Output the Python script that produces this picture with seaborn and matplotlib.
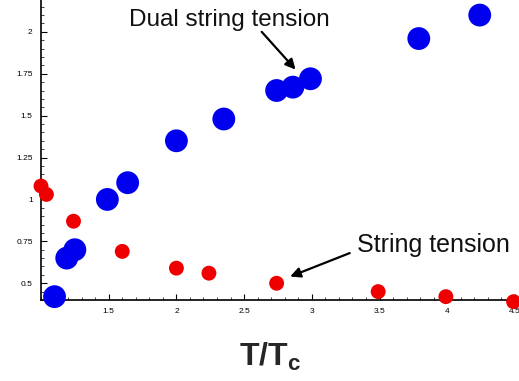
import matplotlib
matplotlib.use("Agg")
import matplotlib.pyplot as plt
import seaborn as sns
import pandas as pd
from matplotlib.ticker import MultipleLocator

dual_T = [1.10, 1.19, 1.25, 1.49, 1.64, 2.00, 2.35, 2.74, 2.86, 2.99, 3.79, 4.24]
dual_val = [0.42, 0.65, 0.70, 1.00, 1.10, 1.35, 1.48, 1.65, 1.67, 1.72, 1.96, 2.10]
str_T = [1.00, 1.04, 1.24, 1.60, 2.00, 2.24, 2.74, 3.49, 3.99, 4.49]
str_val = [1.08, 1.03, 0.87, 0.69, 0.59, 0.56, 0.50, 0.45, 0.42, 0.39]
xticks = [1.5, 2, 2.5, 3, 3.5, 4, 4.5]
yticks = [0.5, 0.75, 1, 1.25, 1.5, 1.75, 2]

sns.set_style("white")
plt.rcParams["font.family"] = ["Liberation Sans", "DejaVu Sans"]
plt.rcParams["mathtext.fontset"] = "custom"
plt.rcParams["mathtext.rm"] = "Liberation Sans"
plt.rcParams["mathtext.bf"] = "Liberation Sans:bold"
plt.rcParams["mathtext.it"] = "Liberation Sans:italic"

fig = plt.figure(figsize=(5.19, 3.81), dpi=100)
ax = fig.add_axes([0.079, 0.2126, 0.921, 0.7874])

dd = pd.DataFrame({"T": dual_T, "v": dual_val})
ds = pd.DataFrame({"T": str_T, "v": str_val})
sns.scatterplot(data=dd, x="T", y="v", ax=ax, color="#0000ee", s=270,
                edgecolor="none", zorder=3, clip_on=False)
sns.scatterplot(data=ds, x="T", y="v", ax=ax, color="#ee0000", s=115,
                edgecolor="none", zorder=3, clip_on=False, marker="o")

ax.set_xlim(1.0, 4.53)
ax.set_ylim(0.40, 2.19)
ax.set_xticks(xticks)
ax.set_xticklabels([f"{t:g}" for t in xticks])
ax.set_yticks(yticks)
ax.set_yticklabels([f"{t:g}" for t in yticks])
ax.xaxis.set_minor_locator(MultipleLocator(0.1))
ax.yaxis.set_minor_locator(MultipleLocator(0.05))
ax.tick_params(which="major", direction="in", length=4, width=0.8, labelsize=6,
               colors="black", bottom=True, left=True, pad=6)
ax.tick_params(which="minor", direction="in", length=2, width=0.6, bottom=True, left=True)
for s in ["top", "right"]:
    ax.spines[s].set_visible(False)
for s in ["left", "bottom"]:
    ax.spines[s].set_color("black")
    ax.spines[s].set_linewidth(1.2)

ax.set_xlabel(r"$\mathbf{T/T_c}$", fontsize=23, fontweight="bold")
ax.xaxis.set_label_coords((270 - 41) / 478, -0.135)
ax.set_ylabel("")

ax.text(2.39, 2.07, "Dual string tension", fontsize=17.5, ha="center", va="center",
        color="#111111")
ax.annotate("", xy=(2.88, 1.775), xytext=(2.63, 2.0),
            arrowprops=dict(arrowstyle="-|>", color="black", lw=1.6, mutation_scale=15,
                            shrinkA=0, shrinkB=0))
ax.text(3.90, 0.728, "String tension", fontsize=18, ha="center", va="center",
        color="#111111")
ax.annotate("", xy=(2.84, 0.54), xytext=(3.28, 0.68),
            arrowprops=dict(arrowstyle="-|>", color="black", lw=1.6, mutation_scale=15,
                            shrinkA=0, shrinkB=0))

fig.savefig("out.png", dpi=100)
